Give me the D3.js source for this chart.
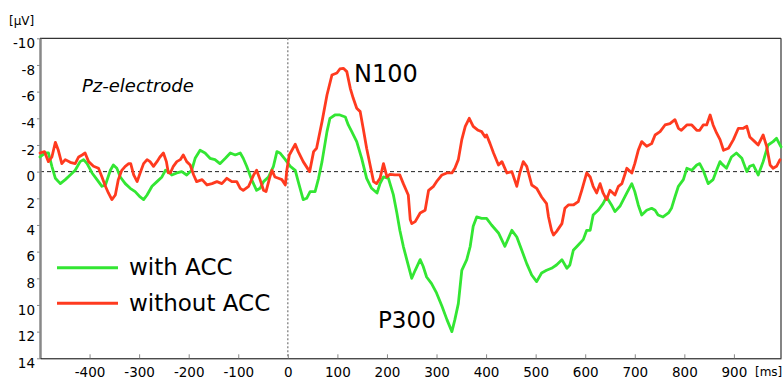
<!DOCTYPE html>
<html>
<head>
<meta charset="utf-8">
<script src="https://cdn.jsdelivr.net/npm/d3@7"></script>
<style>
  html, body { margin: 0; padding: 0; background: #fff; }
  svg { display: block; }
  text { font-family: "DejaVu Sans", sans-serif; fill: #000; }
</style>
</head>
<body>
<svg id="chart" width="784" height="379"></svg>
<script>
// ---- data (time in ms, amplitude in µV; negative plotted upwards) ----
const timeWith = [-500,-489,-483,-476,-469,-459,-449,-439,-429,-419,-412,-405,-395,-385,-375,-368,-358,-352,-345,-338,-328,-318,-308,-298,-291,-284,-274,-264,-254,-247,-241,-234,-224,-214,-204,-194,-187,-177,-167,-157,-147,-137,-126,-116,-106,-96,-90,-83,-73,-63,-56,-49,-39,-29,-22,-16,-5,1,5,15,21,31,38,45,55,62,69,79,85,95,105,116,122,129,139,149,159,169,180,186,193,203,213,220,226,233,240,250,257,267,273,280,290,300,311,321,331,337,344,351,361,368,374,381,391,401,411,425,438,452,462,472,482,492,502,512,522,532,542,553,563,569,576,586,596,603,610,616,626,636,643,653,660,670,677,684,694,700,707,714,724,734,741,747,757,768,774,781,788,798,805,815,825,831,838,848,858,865,872,875,885,895,905,916,926,932,939,949,959,969,979,986,995];
const withACC = [-1.1,-1.4,-1.4,-0.4,0.5,0.9,0.6,0.25,-0.1,-0.75,-0.9,-0.6,0.1,0.6,1.1,1.0,-0.1,-0.5,-0.25,0.4,0.9,1.25,1.5,1.9,2.1,1.75,1.1,0.75,0.4,-0.1,0,0.25,0.1,0,0.25,-0.1,-1.0,-1.6,-1.4,-1.0,-0.9,-0.6,-1.0,-1.4,-1.25,-1.4,-1.0,-0.4,0.6,1.4,1.25,0.75,0.4,-0.4,-1.5,-1.4,-0.9,-0.6,-0.4,-0.1,0.75,2.1,2.0,1.5,1.5,0.5,-0.75,-3.0,-4.0,-4.25,-4.25,-4.1,-3.5,-3.0,-2.25,-1.0,0.5,1.25,1.6,0.9,0.4,0.5,1.75,3.1,4.4,5.6,6.6,8.0,7.4,6.6,7.1,7.9,8.4,9.1,10.1,11.1,12.0,11.1,9.9,7.4,6.6,5.6,4.1,3.4,3.5,3.5,4.0,4.6,5.6,4.4,4.9,5.9,6.9,7.75,8.25,7.6,7.4,7.25,7.0,6.6,7.25,7.0,5.9,5.5,5.1,4.4,4.4,3.25,2.9,2.4,1.9,2.5,3.0,2.6,2.1,1.6,0.9,1.5,2.5,3.25,2.9,2.75,2.9,3.25,3.4,3.1,2.75,1.9,1.1,0.6,-0.25,-0.1,-0.5,-0.6,-0.1,0.9,0.6,-0.1,-0.75,-0.6,-0.25,-1.1,-1.4,-1.0,0,-0.4,-0.5,0.25,-0.75,-2.0,-2.25,-2.5,-1.85];

const timeWithout = [-500,-491,-483,-476,-469,-463,-456,-449,-439,-429,-422,-415,-409,-402,-392,-382,-375,-368,-362,-355,-348,-342,-335,-328,-321,-317,-311,-304,-298,-291,-284,-278,-271,-264,-258,-251,-245,-241,-237,-231,-224,-217,-211,-204,-197,-190,-184,-173,-163,-153,-143,-133,-123,-113,-103,-96,-90,-79,-69,-63,-56,-49,-44,-37,-32,-26,-19,-12,-5,-2,3,15,21,31,44,52,58,69,79,89,99,105,112,119,126,132,139,146,152,159,166,173,179,186,193,200,206,216,226,233,243,247,250,257,267,277,284,294,300,311,321,331,337,344,351,358,366,374,384,391,398,401,408,415,425,432,442,452,462,468,475,482,492,502,512,522,526,532,536,542,553,559,566,576,586,593,603,610,616,623,630,636,643,650,660,667,674,684,694,700,707,714,724,734,741,751,761,771,781,788,794,805,815,825,831,838,845,852,858,865,872,879,889,899,909,919,926,932,942,949,959,966,973,979,986,993];
const withoutACC = [-1.4,-1.5,-0.75,-1.1,-2.2,-1.6,-0.6,-0.9,-0.7,-0.6,-1.1,-1.25,-1.4,-0.75,-0.4,-0.25,0.4,1.1,1.6,2.1,1.75,0.6,-0.1,-0.4,-0.6,-0.6,0.25,0.75,0.1,-0.6,-0.9,-0.75,-0.4,-0.75,-1.1,-1.4,-0.75,0.1,0.1,-0.4,-0.75,-0.9,-1.25,-0.75,-0.5,0.25,0.75,0.6,1.0,0.9,0.75,0.9,0.5,0.75,0.75,1.25,1.4,1.1,0.25,-0.1,0.6,1.4,1.5,0.5,-0.1,0.4,0.5,0.6,1.0,-0.1,-1.25,-2.05,-1.5,-0.75,0,-1.5,-1.75,-3.75,-5.75,-7.25,-7.4,-7.7,-7.75,-7.5,-6.25,-5.5,-4.75,-4.5,-3.25,-1.75,-0.5,0.75,0.9,0.5,-0.6,0.4,0.2,0.25,0.25,0.9,1.75,3.6,3.9,3.75,3.1,2.9,1.4,1.1,0.75,0.25,0.1,0.1,-0.25,-0.9,-2.4,-3.4,-4.0,-3.4,-3.1,-3.0,-2.6,-2.75,-2.1,-1.4,-0.5,-0.75,0.1,0,1.1,0.1,-0.75,-0.4,1.0,1.25,1.9,2.4,3.4,4.4,4.75,4.5,3.9,2.75,2.5,2.5,2.25,1.4,0.1,0.4,1.1,1.6,0.9,1.6,2.1,1.4,1.75,1.1,0.9,-0.25,0.1,-0.6,-1.6,-2.25,-1.9,-2.1,-2.75,-3.0,-3.5,-3.6,-3.9,-3.25,-3.1,-3.5,-3.5,-3.1,-3.1,-3.5,-3.5,-4.25,-3.5,-2.9,-2.4,-1.6,-1.75,-2.4,-3.25,-3.25,-3.4,-2.6,-2.25,-2.0,-2.75,-1.9,-0.5,-0.25,-0.4,-0.9];

const xTicks = [-400,-300,-200,-100,0,100,200,300,400,500,600,700,800,900];
const yTicks = [-10,-8,-6,-4,-2,0,2,4,6,8,10,12,14];
const seriesNames = ["with ACC", "without ACC"];
const seriesColors = ["#33e633", "#ff3a1f"];

// ---- layout ----
const svg = d3.select("#chart");
const mLeft = 40, mRight = 781, mTop = 38.3, mBottom = 358.3;
const x = d3.scaleLinear().domain([-500, 995]).range([mLeft, mRight]);
const y = d3.scaleLinear().domain([-10, 14]).range([mTop, mBottom]);

// frame (top, right)
svg.append("line").attr("x1", mLeft).attr("x2", mRight).attr("y1", mTop).attr("y2", mTop)
  .attr("stroke", "#000").attr("stroke-width", 1);
svg.append("line").attr("x1", mRight).attr("x2", mRight).attr("y1", mTop).attr("y2", mBottom)
  .attr("stroke", "#333").attr("stroke-width", 1.2);

// zero reference lines
svg.append("line").attr("x1", mLeft).attr("x2", mRight).attr("y1", y(0)).attr("y2", y(0))
  .attr("stroke", "#222").attr("stroke-width", 1).attr("stroke-dasharray", "4,3");
svg.append("line").attr("x1", x(0)).attr("x2", x(0)).attr("y1", mTop).attr("y2", mBottom)
  .attr("stroke", "#777").attr("stroke-width", 1.2).attr("stroke-dasharray", "2,2");

// left axis
const yAxis = svg.append("g").attr("transform", `translate(${mLeft},0)`)
  .call(d3.axisLeft(y).tickValues(yTicks).tickSize(3).tickSizeOuter(0).tickFormat(d => String(d)));
yAxis.select(".domain").attr("stroke", "#888").attr("stroke-width", 2.5);
yAxis.selectAll(".tick line").attr("stroke", "#888");
yAxis.selectAll(".tick text").attr("x", -5).attr("dy", null).attr("y", 9.2)
  .style("font-size", "13.5px").style("font-family", "DejaVu Sans, sans-serif");

// bottom axis
const xAxis = svg.append("g").attr("transform", `translate(0,${mBottom})`)
  .call(d3.axisBottom(x).tickValues(xTicks).tickSize(-4).tickSizeOuter(0).tickFormat(d => String(d)));
xAxis.select(".domain").attr("stroke", "#000").attr("stroke-width", 1);
xAxis.selectAll(".tick line").attr("stroke", "#888");
xAxis.selectAll(".tick text").attr("y", 19).attr("dy", null)
  .style("font-size", "13.5px").style("font-family", "DejaVu Sans, sans-serif");

// series
const line = d3.line().x(d => x(d[0])).y(d => y(d[1]));
const series = [
  d3.zip(timeWith, withACC),
  d3.zip(timeWithout, withoutACC)
];
series.forEach((s, i) => {
  svg.append("path").datum(s).attr("d", line)
    .attr("fill", "none").attr("stroke", seriesColors[i])
    .attr("stroke-width", 2.8).attr("stroke-linejoin", "round").attr("stroke-linecap", "round");
});

// unit labels
svg.append("text").attr("x", 9).attr("y", 25).style("font-size", "12px").text("[µV]");
svg.append("text").attr("x", 755).attr("y", 376).style("font-size", "12px").text("[ms]");

// annotations
svg.append("text").attr("x", 82).attr("y", 92).style("font-size", "18px")
  .style("font-style", "italic").text("Pz-electrode");
svg.append("text").attr("x", 354).attr("y", 81.7).style("font-size", "24px").text("N100");
svg.append("text").attr("x", 378).attr("y", 328.3).style("font-size", "23px").text("P300");

// legend
const legendY = [267.7, 303.3];
seriesNames.forEach((name, i) => {
  svg.append("line").attr("x1", 57).attr("x2", 118).attr("y1", legendY[i]).attr("y2", legendY[i])
    .attr("stroke", seriesColors[i]).attr("stroke-width", 3);
  svg.append("text").attr("x", 129).attr("y", legendY[i] + 7.5).style("font-size", "23px").text(name);
});
</script>
</body>
</html>
